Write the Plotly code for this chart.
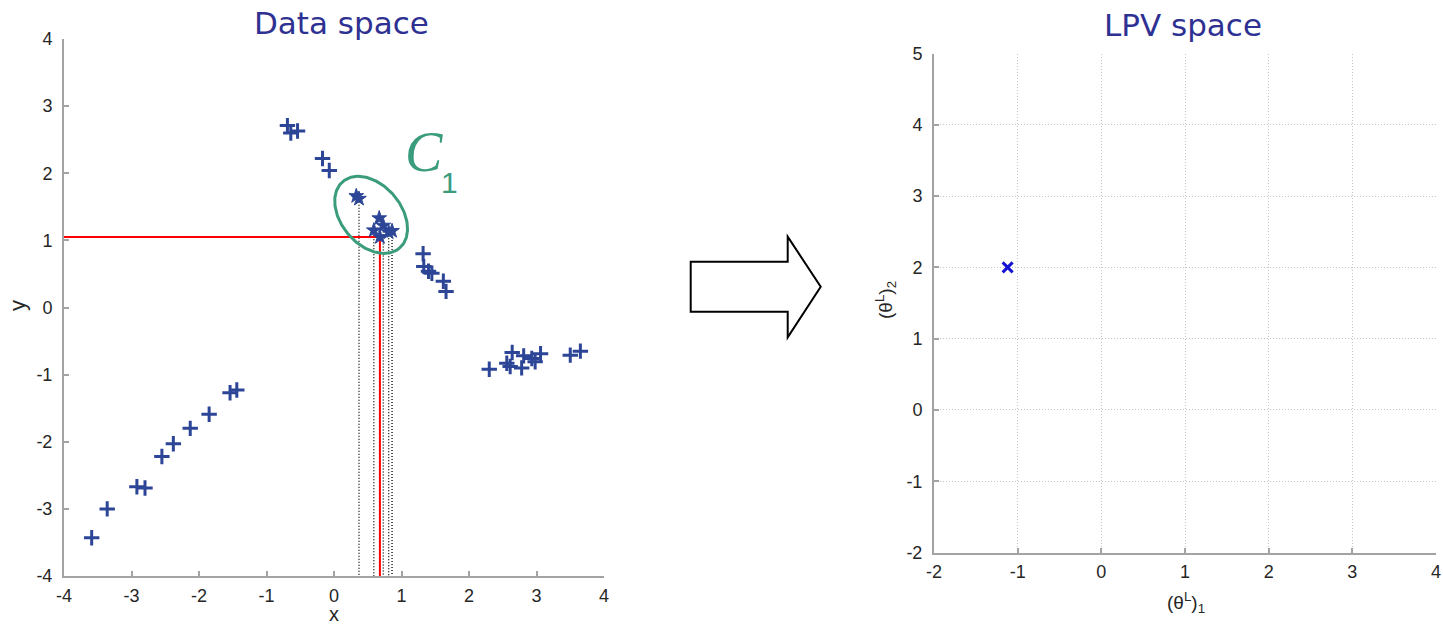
import numpy as np
import plotly.graph_objects as go

W, H = 1443, 626

# ---- Data space: observations (+) ----
plus_x = [-3.59, -3.36, -2.92, -2.80, -2.55, -2.38, -2.13, -1.85, -1.54, -1.44,
          -0.69, -0.64, -0.54, -0.17, -0.07,
          1.32, 1.33, 1.40, 1.45, 1.62, 1.66,
          2.30, 2.56, 2.61, 2.64, 2.78, 2.81, 2.93, 2.98, 3.06, 3.50, 3.65]
plus_y = [-3.43, -3.00, -2.67, -2.69, -2.22, -2.03, -1.80, -1.59, -1.27, -1.23,
          2.71, 2.60, 2.63, 2.22, 2.04,
          0.80, 0.61, 0.54, 0.51, 0.39, 0.24,
          -0.92, -0.83, -0.88, -0.67, -0.90, -0.72, -0.76, -0.81, -0.69, -0.71, -0.65]

# members of cluster C1 (stars) and the selected member (red guides)
star_x = [0.33, 0.37, 0.59, 0.67, 0.73, 0.81, 0.86]
star_y = [1.66, 1.62, 1.15, 1.33, 1.22, 1.12, 1.14]
drop_from = [1, 2, 4, 5, 6]          # stars with dotted drop lines
sel_x, sel_y = 0.68, 1.05

# ellipse around C1
ell_cx, ell_cy = 0.55, 1.38
ell_a, ell_b, ell_deg = 0.65, 0.445, -50

# ---- LPV space ----
lpv_x = [-1.12]
lpv_y = [2.0]

data_ticks = [-4, -3, -2, -1, 0, 1, 2, 3, 4]
lpv_xticks = [-2, -1, 0, 1, 2, 3, 4]
lpv_yticks = [-2, -1, 0, 1, 2, 3, 4, 5]

BLUE = "#2c4596"
GREEN = "#3b9c7d"
TITLE = "#2e3192"
AXIS = "#a3a3a3"
TXT = "#262626"

fig = go.Figure()

# dotted drop lines
dx, dy = [], []
for i in drop_from:
    dx += [star_x[i], star_x[i], None]
    dy += [star_y[i], -4, None]
fig.add_trace(go.Scatter(x=dx, y=dy, mode="lines",
                         line=dict(color="black", width=1.3, dash="1px,2px"),
                         xaxis="x", yaxis="y", hoverinfo="skip"))
# red guides to the selected point
fig.add_trace(go.Scatter(x=[-4, sel_x, sel_x], y=[sel_y, sel_y, -4], mode="lines",
                         line=dict(color="#ff0000", width=2),
                         xaxis="x", yaxis="y", hoverinfo="skip"))
# ellipse
t = np.linspace(0, 2 * np.pi, 200)
th = np.deg2rad(ell_deg)
ex = ell_cx + ell_a * np.cos(t) * np.cos(th) - ell_b * np.sin(t) * np.sin(th)
ey = ell_cy + ell_a * np.cos(t) * np.sin(th) + ell_b * np.sin(t) * np.cos(th)
fig.add_trace(go.Scatter(x=ex, y=ey, mode="lines", line=dict(color=GREEN, width=3),
                         xaxis="x", yaxis="y", hoverinfo="skip"))
# observations
fig.add_trace(go.Scatter(x=plus_x, y=plus_y, mode="markers",
                         marker=dict(symbol="cross-thin", size=11,
                                     line=dict(width=3, color=BLUE)),
                         xaxis="x", yaxis="y"))
fig.add_trace(go.Scatter(x=star_x + [sel_x], y=star_y + [sel_y], mode="markers",
                         marker=dict(symbol="star", size=11, color=BLUE,
                                     line=dict(width=1, color=BLUE)),
                         xaxis="x", yaxis="y"))
# LPV point
fig.add_trace(go.Scatter(x=lpv_x, y=lpv_y, mode="markers",
                         marker=dict(symbol="x-thin", size=10,
                                     line=dict(width=3, color="#1414d2")),
                         xaxis="x2", yaxis="y2"))


def px(x, y):
    return x / W, 1 - y / H


def ticklabels(vals):
    return [str(v) for v in vals]   # plain hyphen minus


tickfont = dict(family="Liberation Sans", size=18, color=TXT)
axis_common = dict(showline=True, linecolor=AXIS, linewidth=2, ticks="inside",
                   ticklen=5, tickcolor=AXIS, tickwidth=1.5, zeroline=False,
                   tickfont=tickfont, mirror=False, fixedrange=True,
                   automargin=False)
xstyle = dict(axis_common, ticklabelstandoff=2)
ystyle = dict(axis_common, ticklabelstandoff=6)

fig.update_layout(
    width=W, height=H, margin=dict(l=0, r=0, t=0, b=0, autoexpand=False),
    paper_bgcolor="white", plot_bgcolor="white", showlegend=False,
    xaxis=dict(domain=[64 / W, 604 / W], range=[-4, 4], tickvals=data_ticks,
               ticktext=ticklabels(data_ticks),
               showgrid=False, anchor="y", **xstyle),
    yaxis=dict(domain=[(H - 576) / H, (H - 39) / H], range=[-4, 4], tickvals=data_ticks,
               ticktext=ticklabels(data_ticks),
               showgrid=False, anchor="x", **ystyle),
    xaxis2=dict(domain=[934 / W, 1436 / W], range=[-2, 4], tickvals=lpv_xticks,
                ticktext=ticklabels(lpv_xticks),
                showgrid=True, gridcolor="#c4c4c4", griddash="1px,2px", gridwidth=1,
                anchor="y2", **xstyle),
    yaxis2=dict(domain=[(H - 552.5) / H, (H - 53.5) / H], range=[-2, 5], tickvals=lpv_yticks,
                ticktext=ticklabels(lpv_yticks),
                showgrid=True, gridcolor="#c4c4c4", griddash="1px,2px", gridwidth=1,
                anchor="x2", **ystyle),
)

ann = []


def label(x, y, text, size, color=TXT, family="Liberation Sans", angle=0):
    xp, yp = px(x, y)
    ann.append(dict(x=xp, y=yp, xref="paper", yref="paper", text=text, showarrow=False,
                    xanchor="center", yanchor="middle", textangle=angle,
                    font=dict(family=family, size=size, color=color)))


label(341, 23, "Data space", 31, TITLE, "DejaVu Sans")
label(1183, 25, "LPV space", 31, TITLE, "DejaVu Sans")
label(334, 614, "x", 20)
label(17, 306, "y", 22, angle=-90)
label(1186, 602, "(θ<sup>L</sup>)<sub>1</sub>", 19)
label(885, 300, "(θ<sup>L</sup>)<sub>2</sub>", 19, angle=-90)
label(424, 152, "<i>C</i>", 56, GREEN, "Liberation Serif")
label(449, 182, "1", 30, GREEN)
fig.update_layout(annotations=ann)

# block arrow between the panels
pts = [(690.7, 261.7), (787.7, 261.7), (787.7, 236.7), (820.7, 286.7),
       (787.7, 337.3), (787.7, 311.7), (690.7, 311.7)]
path = "M " + " L ".join(f"{px(a, b)[0]:.5f},{px(a, b)[1]:.5f}" for a, b in pts) + " Z"
fig.add_shape(type="path", path=path, xref="paper", yref="paper",
              line=dict(color="black", width=2), fillcolor="white")

fig.write_html("out.html")
